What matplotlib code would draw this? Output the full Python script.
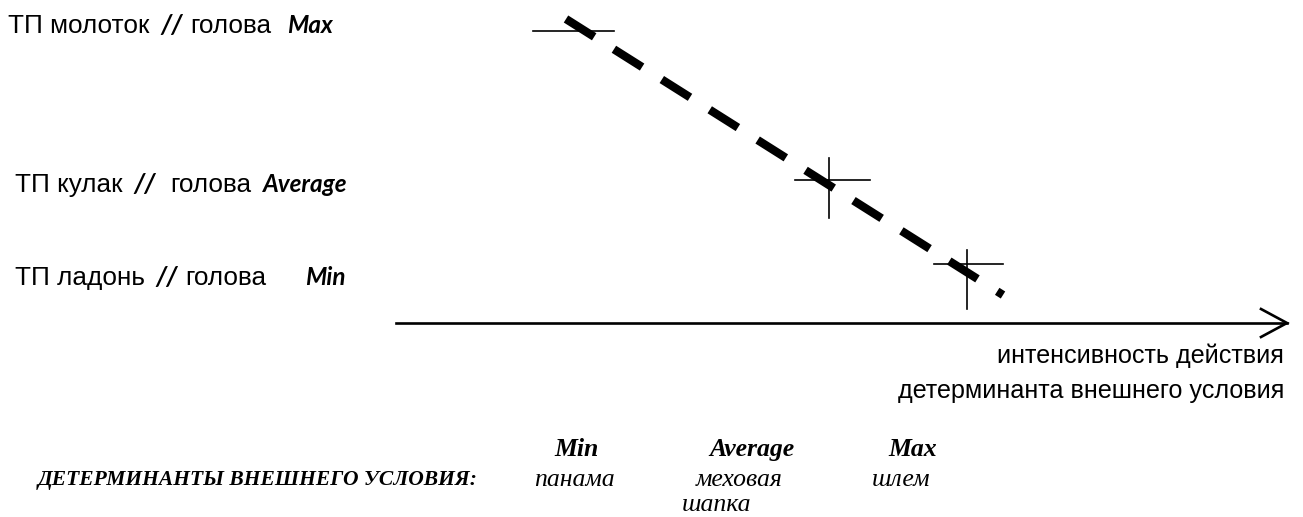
import matplotlib
matplotlib.use("Agg")
import matplotlib.pyplot as plt

# labels on the left (tool // target, level)
tool_labels = ["ТП молоток", "ТП кулак", "ТП ладонь"]
target_label = "голова"
tool_levels = ["Max", "Average", "Min"]

# cross marks (pixel-like units of the drawing)
cross_x = [573, 829, 967]
cross_y = [31, 180, 264]
cross_left = [40, 34, 33]
cross_right = [41, 41, 36]
cross_up = [0, 22, 14]
cross_down = [0, 38, 45]

# dashed trend line
trend_x = [566, 1003]
trend_y = [19, 295]

# bottom row: external condition determinants
det_title = "ДЕТЕРМИНАНТЫ ВНЕШНЕГО УСЛОВИЯ:"
det_levels = ["Min", "Average", "Max"]
det_items = [["панама"], ["меховая", "шапка"], ["шлем"]]
axis_label = ["интенсивность действия", "детерминанта внешнего условия"]

fig = plt.figure(figsize=(13.03, 5.17), dpi=100)
ax = fig.add_axes([0, 0, 1, 1])
ax.set_xlim(0, 1303)
ax.set_ylim(517, 0)
ax.axis("off")

sans = "Liberation Sans"
calib = "Lato"
serif = "Liberation Serif"
fs = 18.8

# left labels, placed piece by piece
row_base = [33, 192, 285]
x_tool = [8, 15, 15]
x_slash = [160, 133, 155]
x_head = [190, 170, 185]
x_lvl = [287, 263, 305]
for i in range(3):
    y = row_base[i]
    ax.text(x_tool[i], y, tool_labels[i], fontsize=fs, family=sans, va="baseline")
    ax.text(x_slash[i], y, "//", fontsize=fs, family=calib, weight="bold",
            style="italic", va="baseline")
    ax.text(x_head[i], y, target_label, fontsize=fs, family=sans, va="baseline")
    ax.text(x_lvl[i], y, tool_levels[i], fontsize=17.5, family=calib,
            weight="bold", style="italic", va="baseline")

# crosses
for cx, cy, l, r, u, d in zip(cross_x, cross_y, cross_left, cross_right,
                              cross_up, cross_down):
    ax.plot([cx - l, cx + r], [cy, cy], color="black", lw=1.2)
    if u or d:
        ax.plot([cx, cx], [cy - u, cy + d], color="black", lw=1.2)

# dashed trend
ax.plot(trend_x, trend_y, color="black", lw=6.0, dashes=(4.0, 2.8),
        solid_capstyle="butt", dash_capstyle="butt")

# horizontal axis with open arrow
ax.plot([396, 1287], [323, 323], color="black", lw=1.9)
ax.plot([1261, 1287, 1261], [309, 323, 337], color="black", lw=1.9,
        solid_joinstyle="miter")
ax.text(1284, 363, axis_label[0], fontsize=18.1, family=sans, ha="right",
        va="baseline")
ax.text(1284, 398, axis_label[1], fontsize=18.1, family=sans, ha="right",
        va="baseline")

# bottom determinants
ax.text(38, 485, det_title, fontsize=15.5, family=serif, weight="bold",
        style="italic", va="baseline")
lvl_x = [577, 752, 913]
item_x = [574, 739, 901]
for i in range(3):
    ax.text(lvl_x[i], 456, det_levels[i], fontsize=18.5, family=serif,
            weight="bold", style="italic", ha="center", va="baseline")
    ax.text(item_x[i], 486, det_items[i][0], fontsize=18.5, family=serif,
            style="italic", ha="center", va="baseline")
ax.text(682, 511, det_items[1][1], fontsize=18.5, family=serif,
        style="italic", ha="left", va="baseline")

fig.savefig("out.png", dpi=100)
